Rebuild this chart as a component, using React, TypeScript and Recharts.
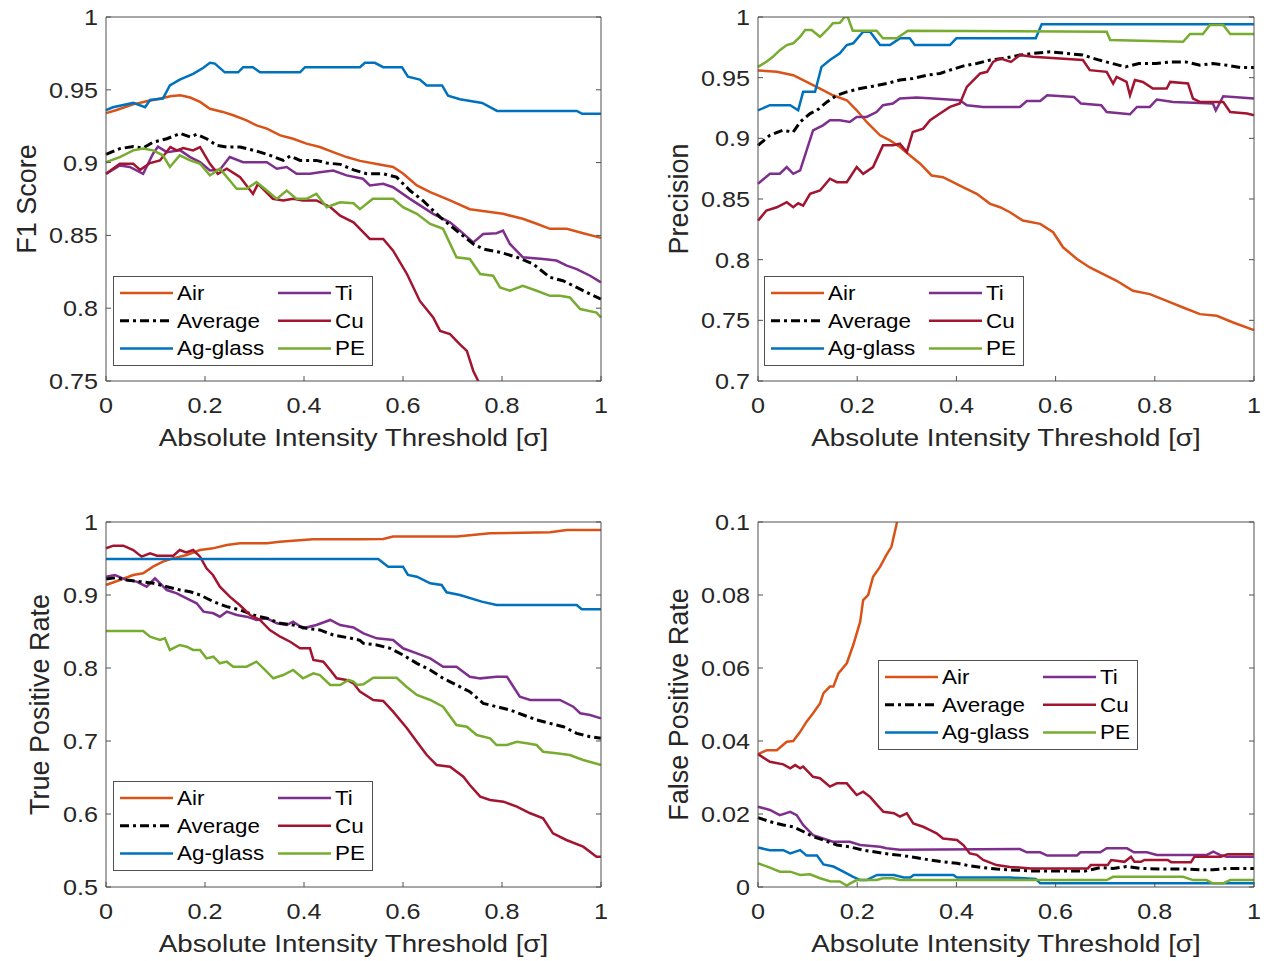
import React from 'react';
import { LineChart, Line, XAxis, YAxis, Legend } from 'recharts';

type Pt = [number, number];

// ---------- tick values ----------
const X_TICKS = [0, 0.2, 0.4, 0.6, 0.8, 1];
const F1_TICKS = [0.75, 0.8, 0.85, 0.9, 0.95, 1];
const PREC_TICKS = [0.7, 0.75, 0.8, 0.85, 0.9, 0.95, 1];
const TPR_TICKS = [0.5, 0.6, 0.7, 0.8, 0.9, 1];
const FPR_TICKS = [0, 0.02, 0.04, 0.06, 0.08, 0.1];

// ---------- series ----------
const SERIES_NAMES = ['Air', 'Average', 'Ag-glass', 'Ti', 'Cu', 'PE'];
const SERIES_COLORS = ['#D95319', '#000000', '#0072BD', '#7E2F8E', '#A2142F', '#77AC30'];

// ---------- F1 score ----------
const f1Air: Pt[] = [[0,0.934],[0.02,0.936],[0.055,0.94],[0.08,0.942],[0.11,0.944],[0.13,0.9456],[0.15,0.9463],[0.17,0.9447],[0.19,0.9417],[0.21,0.937],[0.236,0.9348],[0.257,0.9325],[0.284,0.929],[0.304,0.9256],[0.325,0.9233],[0.352,0.9187],[0.378,0.9164],[0.405,0.913],[0.432,0.9107],[0.459,0.9072],[0.486,0.9038],[0.513,0.9012],[0.547,0.899],[0.58,0.897],[0.6,0.8925],[0.628,0.8843],[0.655,0.8797],[0.695,0.874],[0.735,0.868],[0.776,0.866],[0.802,0.8648],[0.842,0.8614],[0.87,0.858],[0.897,0.8545],[0.931,0.8545],[0.964,0.8515],[1,0.8483]];
const f1Avg: Pt[] = [[0,0.9056],[0.028,0.9096],[0.055,0.911],[0.075,0.91],[0.095,0.914],[0.123,0.9164],[0.15,0.92],[0.17,0.9176],[0.183,0.9194],[0.203,0.9164],[0.224,0.9118],[0.244,0.9107],[0.271,0.9107],[0.291,0.909],[0.311,0.9072],[0.337,0.9043],[0.358,0.9015],[0.372,0.9045],[0.392,0.9015],[0.425,0.9015],[0.446,0.8997],[0.473,0.8988],[0.5,0.895],[0.527,0.8923],[0.56,0.8923],[0.587,0.89],[0.614,0.8808],[0.64,0.874],[0.675,0.8625],[0.708,0.8533],[0.742,0.8441],[0.762,0.8407],[0.796,0.8384],[0.83,0.835],[0.863,0.8303],[0.897,0.8212],[0.923,0.8189],[0.951,0.8143],[0.978,0.8097],[1,0.8063]];
const f1Ag: Pt[] = [[0,0.936],[0.014,0.938],[0.055,0.941],[0.079,0.938],[0.089,0.943],[0.115,0.944],[0.129,0.953],[0.149,0.957],[0.176,0.961],[0.196,0.965],[0.21,0.9685],[0.22,0.968],[0.24,0.962],[0.267,0.962],[0.277,0.9655],[0.297,0.9655],[0.311,0.962],[0.392,0.962],[0.402,0.9655],[0.513,0.9655],[0.523,0.9685],[0.543,0.9685],[0.56,0.9655],[0.598,0.9655],[0.61,0.959],[0.634,0.957],[0.648,0.953],[0.679,0.953],[0.691,0.946],[0.715,0.9435],[0.76,0.941],[0.79,0.9355],[0.951,0.9355],[0.962,0.9335],[1,0.9335]];
const f1Ti: Pt[] = [[0,0.8923],[0.028,0.898],[0.048,0.897],[0.075,0.8923],[0.095,0.9061],[0.105,0.911],[0.123,0.9072],[0.15,0.9084],[0.17,0.9038],[0.19,0.9003],[0.21,0.8946],[0.23,0.8951],[0.25,0.9038],[0.277,0.9003],[0.325,0.9003],[0.345,0.8958],[0.365,0.897],[0.385,0.8923],[0.412,0.8923],[0.432,0.8934],[0.459,0.8946],[0.486,0.8912],[0.519,0.8889],[0.533,0.8843],[0.56,0.8854],[0.58,0.8831],[0.614,0.8751],[0.661,0.8648],[0.695,0.859],[0.715,0.8533],[0.742,0.8452],[0.762,0.851],[0.789,0.8515],[0.802,0.8533],[0.816,0.8441],[0.842,0.835],[0.883,0.8338],[0.91,0.8327],[0.931,0.8292],[0.951,0.8269],[0.978,0.8223],[1,0.8177]];
const f1Cu: Pt[] = [[0,0.8923],[0.028,0.8992],[0.055,0.8992],[0.069,0.895],[0.089,0.8997],[0.109,0.9015],[0.13,0.9107],[0.143,0.9084],[0.156,0.91],[0.176,0.9084],[0.19,0.9107],[0.21,0.8992],[0.226,0.8923],[0.244,0.8958],[0.271,0.89],[0.297,0.8785],[0.307,0.8854],[0.337,0.8751],[0.358,0.874],[0.378,0.8751],[0.398,0.874],[0.425,0.874],[0.453,0.8694],[0.473,0.8636],[0.5,0.859],[0.52,0.852],[0.533,0.8476],[0.56,0.8476],[0.58,0.8395],[0.608,0.8235],[0.634,0.805],[0.661,0.7936],[0.675,0.7844],[0.695,0.7822],[0.715,0.7752],[0.729,0.7707],[0.742,0.7569],[0.752,0.75],[0.775,0.735]];
const f1PE: Pt[] = [[0,0.9003],[0.028,0.9038],[0.055,0.9084],[0.075,0.9096],[0.095,0.9084],[0.115,0.905],[0.129,0.897],[0.149,0.905],[0.17,0.9015],[0.19,0.8992],[0.21,0.8912],[0.23,0.8958],[0.25,0.8877],[0.264,0.882],[0.284,0.882],[0.304,0.8866],[0.325,0.8808],[0.345,0.8751],[0.365,0.8808],[0.385,0.8751],[0.405,0.8751],[0.425,0.8785],[0.446,0.8694],[0.473,0.8728],[0.5,0.8721],[0.513,0.868],[0.539,0.8751],[0.58,0.8751],[0.6,0.8694],[0.628,0.8648],[0.655,0.8579],[0.681,0.8545],[0.708,0.835],[0.735,0.8338],[0.756,0.8235],[0.782,0.8223],[0.796,0.8143],[0.816,0.812],[0.842,0.8154],[0.87,0.812],[0.897,0.8085],[0.917,0.8085],[0.937,0.8074],[0.958,0.7994],[0.991,0.797],[1,0.7936]];

// ---------- Precision ----------
const precAir: Pt[] = [[0,0.956],[0.038,0.9548],[0.071,0.952],[0.098,0.9465],[0.125,0.941],[0.151,0.9355],[0.179,0.9314],[0.199,0.9231],[0.219,0.9135],[0.246,0.9025],[0.266,0.8983],[0.286,0.8928],[0.306,0.886],[0.327,0.8791],[0.35,0.8694],[0.373,0.868],[0.393,0.8639],[0.413,0.8597],[0.441,0.8543],[0.468,0.846],[0.488,0.8432],[0.508,0.8391],[0.534,0.8322],[0.569,0.8295],[0.595,0.8226],[0.615,0.8102],[0.643,0.8006],[0.669,0.7936],[0.696,0.7881],[0.723,0.7826],[0.756,0.7744],[0.79,0.7716],[0.824,0.7661],[0.857,0.7606],[0.891,0.7551],[0.925,0.7537],[0.958,0.7482],[1,0.7419]];
const precAvg: Pt[] = [[0,0.8942],[0.024,0.9025],[0.05,0.9066],[0.071,0.9052],[0.085,0.9135],[0.105,0.9204],[0.119,0.9231],[0.139,0.93],[0.159,0.9355],[0.179,0.9383],[0.206,0.941],[0.232,0.943],[0.26,0.9452],[0.286,0.948],[0.312,0.9493],[0.34,0.952],[0.367,0.9535],[0.387,0.9562],[0.413,0.9595],[0.441,0.9617],[0.468,0.9645],[0.49,0.9655],[0.528,0.9686],[0.554,0.97],[0.589,0.9713],[0.622,0.97],[0.655,0.9686],[0.688,0.9645],[0.714,0.9617],[0.741,0.9589],[0.768,0.9617],[0.802,0.9617],[0.834,0.963],[0.862,0.963],[0.891,0.9603],[0.917,0.9617],[0.945,0.9603],[0.972,0.9584],[1,0.9584]];
const precAg: Pt[] = [[0,0.9231],[0.024,0.9273],[0.065,0.9273],[0.081,0.9231],[0.091,0.9383],[0.115,0.9383],[0.128,0.9589],[0.145,0.9645],[0.165,0.97],[0.179,0.9769],[0.192,0.9783],[0.212,0.9879],[0.226,0.9879],[0.246,0.9769],[0.266,0.9769],[0.286,0.9824],[0.306,0.9824],[0.316,0.9769],[0.387,0.9769],[0.4,0.9824],[0.56,0.9824],[0.572,0.994],[1,0.994]];
const precTi: Pt[] = [[0,0.8626],[0.024,0.8708],[0.044,0.8708],[0.058,0.8763],[0.071,0.8708],[0.085,0.8736],[0.098,0.8901],[0.111,0.9066],[0.131,0.9107],[0.145,0.9149],[0.165,0.9149],[0.185,0.9135],[0.199,0.9176],[0.219,0.9176],[0.239,0.9217],[0.252,0.9273],[0.272,0.9287],[0.286,0.9328],[0.32,0.9336],[0.353,0.9328],[0.407,0.9314],[0.421,0.9273],[0.454,0.9259],[0.528,0.9259],[0.542,0.9308],[0.569,0.9308],[0.583,0.9355],[0.637,0.9341],[0.651,0.9287],[0.692,0.9273],[0.703,0.9217],[0.75,0.9198],[0.764,0.9259],[0.79,0.9259],[0.804,0.932],[0.837,0.93],[0.891,0.9292],[0.917,0.9287],[0.923,0.9231],[0.938,0.9347],[1,0.9328]];
const precCu: Pt[] = [[0,0.8322],[0.017,0.8405],[0.038,0.8432],[0.058,0.8474],[0.071,0.8432],[0.081,0.8465],[0.091,0.8446],[0.105,0.8543],[0.125,0.857],[0.145,0.8667],[0.159,0.8639],[0.179,0.8639],[0.199,0.8763],[0.212,0.8708],[0.232,0.8763],[0.252,0.8942],[0.272,0.8942],[0.286,0.8956],[0.3,0.8887],[0.312,0.9052],[0.333,0.908],[0.347,0.9149],[0.367,0.9204],[0.387,0.9259],[0.407,0.9287],[0.421,0.9424],[0.431,0.9465],[0.448,0.9535],[0.462,0.9548],[0.474,0.963],[0.488,0.9659],[0.51,0.963],[0.528,0.9686],[0.554,0.9672],[0.655,0.9645],[0.669,0.9562],[0.703,0.9548],[0.716,0.9452],[0.723,0.9507],[0.743,0.9465],[0.75,0.9355],[0.76,0.948],[0.776,0.9465],[0.796,0.941],[0.824,0.941],[0.831,0.9465],[0.867,0.9452],[0.877,0.9328],[0.891,0.93],[0.938,0.93],[0.952,0.9217],[0.986,0.9204],[1,0.919]];
const precPE: Pt[] = [[0,0.9589],[0.017,0.9631],[0.03,0.9672],[0.044,0.9727],[0.058,0.9769],[0.071,0.9783],[0.085,0.9837],[0.095,0.9893],[0.108,0.9893],[0.125,0.9837],[0.139,0.9893],[0.151,0.9948],[0.165,0.9953],[0.175,1],[0.181,1],[0.191,0.9887],[0.239,0.9887],[0.252,0.9824],[0.28,0.9824],[0.302,0.9887],[0.703,0.9879],[0.71,0.981],[0.857,0.9796],[0.871,0.986],[0.897,0.986],[0.911,0.9934],[0.938,0.9934],[0.952,0.986],[1,0.986]];

// ---------- True positive rate ----------
const tprAir: Pt[] = [[0,0.9137],[0.028,0.9205],[0.055,0.9274],[0.075,0.9297],[0.095,0.9388],[0.115,0.9457],[0.135,0.9502],[0.163,0.9548],[0.19,0.9616],[0.216,0.9639],[0.244,0.9685],[0.271,0.9708],[0.325,0.9708],[0.351,0.973],[0.418,0.9763],[0.513,0.9763],[0.56,0.9767],[0.58,0.98],[0.709,0.98],[0.776,0.9845],[0.897,0.9859],[0.931,0.989],[1,0.989]];
const tprAvg: Pt[] = [[0,0.922],[0.021,0.9237],[0.042,0.9205],[0.069,0.9183],[0.096,0.916],[0.123,0.9114],[0.15,0.9068],[0.17,0.9045],[0.19,0.9],[0.217,0.8909],[0.244,0.884],[0.271,0.8795],[0.298,0.8726],[0.325,0.8681],[0.352,0.8612],[0.378,0.8589],[0.405,0.8544],[0.432,0.8521],[0.459,0.8452],[0.493,0.841],[0.513,0.838],[0.52,0.8338],[0.547,0.8315],[0.574,0.827],[0.6,0.8178],[0.628,0.8064],[0.655,0.7973],[0.681,0.7859],[0.708,0.7767],[0.735,0.7676],[0.762,0.7516],[0.789,0.747],[0.816,0.7425],[0.843,0.7356],[0.87,0.7288],[0.897,0.7242],[0.924,0.7196],[0.951,0.7105],[0.978,0.7059],[1,0.7037]];
const tprAg: Pt[] = [[0,0.9493],[0.55,0.9493],[0.57,0.9388],[0.6,0.9388],[0.61,0.9274],[0.628,0.925],[0.655,0.916],[0.678,0.9137],[0.688,0.9037],[0.715,0.9],[0.759,0.8909],[0.789,0.8863],[0.951,0.8863],[0.961,0.8804],[1,0.8804]];
const tprTi: Pt[] = [[0,0.925],[0.018,0.9274],[0.042,0.9205],[0.062,0.9183],[0.082,0.9114],[0.099,0.9228],[0.123,0.9068],[0.143,0.9023],[0.163,0.8954],[0.183,0.8886],[0.197,0.8772],[0.217,0.8749],[0.23,0.8703],[0.244,0.8772],[0.264,0.8726],[0.284,0.8703],[0.304,0.8658],[0.325,0.8681],[0.345,0.8612],[0.365,0.8589],[0.378,0.8635],[0.398,0.8544],[0.425,0.8589],[0.453,0.8658],[0.473,0.8589],[0.5,0.8555],[0.52,0.8475],[0.547,0.8406],[0.58,0.8384],[0.6,0.827],[0.628,0.8201],[0.655,0.8132],[0.681,0.8018],[0.708,0.8018],[0.735,0.788],[0.756,0.7858],[0.789,0.788],[0.81,0.788],[0.836,0.7607],[0.857,0.7562],[0.917,0.7562],[0.944,0.747],[0.958,0.738],[0.978,0.7356],[1,0.731]];
const tprCu: Pt[] = [[0,0.964],[0.015,0.9676],[0.035,0.9676],[0.055,0.9616],[0.072,0.9525],[0.089,0.957],[0.103,0.9539],[0.136,0.9539],[0.149,0.9616],[0.162,0.9584],[0.176,0.9616],[0.19,0.9525],[0.203,0.9366],[0.216,0.9274],[0.23,0.9114],[0.25,0.8977],[0.27,0.8863],[0.291,0.8726],[0.311,0.8658],[0.331,0.852],[0.352,0.8429],[0.372,0.836],[0.392,0.827],[0.412,0.827],[0.419,0.811],[0.439,0.8087],[0.453,0.7973],[0.466,0.7859],[0.486,0.7836],[0.5,0.779],[0.513,0.7676],[0.54,0.7562],[0.56,0.7548],[0.58,0.7402],[0.608,0.7174],[0.628,0.699],[0.648,0.6808],[0.668,0.6671],[0.695,0.6648],[0.722,0.6511],[0.735,0.6397],[0.756,0.6237],[0.776,0.6192],[0.803,0.6169],[0.83,0.61],[0.857,0.601],[0.883,0.5941],[0.903,0.5735],[0.93,0.5644],[0.964,0.5553],[0.991,0.5416],[1,0.5416]];
const tprPE: Pt[] = [[0,0.8507],[0.075,0.8507],[0.089,0.8429],[0.109,0.8384],[0.119,0.8406],[0.129,0.8247],[0.149,0.8315],[0.163,0.8292],[0.176,0.8247],[0.19,0.8247],[0.203,0.8132],[0.217,0.8155],[0.23,0.8064],[0.244,0.8087],[0.257,0.8018],[0.284,0.8018],[0.304,0.8087],[0.318,0.7995],[0.338,0.7859],[0.358,0.7904],[0.378,0.7973],[0.398,0.7859],[0.419,0.7927],[0.432,0.7904],[0.453,0.7767],[0.473,0.7767],[0.49,0.7836],[0.5,0.7813],[0.507,0.7767],[0.52,0.7776],[0.54,0.7867],[0.587,0.7867],[0.607,0.7744],[0.628,0.763],[0.655,0.7562],[0.681,0.747],[0.708,0.7219],[0.729,0.7196],[0.749,0.7082],[0.776,0.7037],[0.789,0.6945],[0.81,0.6945],[0.83,0.699],[0.85,0.6968],[0.87,0.6945],[0.883,0.6853],[0.91,0.6831],[0.937,0.6808],[0.964,0.674],[1,0.6671]];

// ---------- False positive rate ----------
const fprAir: Pt[] = [[0,0.0364],[0.018,0.0375],[0.038,0.0375],[0.058,0.0398],[0.071,0.04],[0.085,0.0425],[0.098,0.0453],[0.111,0.0476],[0.125,0.0503],[0.132,0.0531],[0.145,0.0549],[0.152,0.0549],[0.162,0.0585],[0.179,0.0613],[0.192,0.0663],[0.206,0.0727],[0.212,0.0786],[0.222,0.08],[0.232,0.085],[0.246,0.0877],[0.259,0.091],[0.269,0.0932],[0.279,0.0992],[0.283,0.102],[0.3,0.115]];
const fprAvg: Pt[] = [[0,0.019],[0.024,0.0179],[0.051,0.017],[0.071,0.0165],[0.091,0.0152],[0.111,0.0138],[0.131,0.0129],[0.159,0.0115],[0.185,0.011],[0.212,0.0101],[0.24,0.0095],[0.266,0.009],[0.293,0.0086],[0.32,0.008],[0.347,0.0074],[0.373,0.0069],[0.401,0.0065],[0.427,0.0058],[0.454,0.0053],[0.481,0.0049],[0.55,0.0044],[0.66,0.0044],[0.69,0.0053],[0.716,0.0051],[0.743,0.0056],[0.77,0.0051],[0.824,0.0049],[0.864,0.0049],[0.891,0.0047],[0.917,0.0047],[0.945,0.0051],[1,0.0051]];
const fprAg: Pt[] = [[0,0.0108],[0.024,0.0101],[0.051,0.0101],[0.065,0.0092],[0.085,0.0101],[0.098,0.0086],[0.119,0.0086],[0.132,0.0062],[0.152,0.0056],[0.172,0.0042],[0.192,0.0028],[0.206,0.0019],[0.219,0.0019],[0.24,0.0033],[0.274,0.0033],[0.294,0.0026],[0.307,0.0026],[0.314,0.0033],[0.394,0.0033],[0.401,0.0026],[0.508,0.0026],[0.56,0.0022],[0.569,0.001],[1,0.001]];
const fprTi: Pt[] = [[0,0.022],[0.024,0.0211],[0.044,0.0197],[0.065,0.0206],[0.078,0.0197],[0.091,0.017],[0.111,0.0142],[0.131,0.0133],[0.151,0.0124],[0.185,0.0124],[0.206,0.0115],[0.246,0.011],[0.259,0.0106],[0.286,0.0102],[0.528,0.0104],[0.542,0.0095],[0.569,0.0095],[0.583,0.0086],[0.643,0.0086],[0.65,0.0095],[0.69,0.0095],[0.703,0.0106],[0.744,0.0106],[0.758,0.0095],[0.784,0.0095],[0.804,0.0088],[0.905,0.0088],[0.918,0.0097],[0.931,0.0088],[0.945,0.0083],[1,0.0083]];
const fprCu: Pt[] = [[0,0.0364],[0.024,0.0343],[0.051,0.0336],[0.065,0.0325],[0.075,0.0334],[0.085,0.0325],[0.091,0.033],[0.111,0.0302],[0.125,0.0298],[0.145,0.0275],[0.159,0.0284],[0.179,0.0284],[0.199,0.0252],[0.212,0.0261],[0.226,0.0247],[0.24,0.0225],[0.253,0.0206],[0.274,0.0202],[0.286,0.0193],[0.3,0.0202],[0.313,0.0174],[0.333,0.0165],[0.347,0.0156],[0.36,0.0147],[0.373,0.0133],[0.401,0.0129],[0.414,0.0115],[0.427,0.0092],[0.441,0.0088],[0.454,0.0074],[0.481,0.006],[0.508,0.0055],[0.55,0.0051],[0.665,0.0051],[0.671,0.006],[0.705,0.006],[0.712,0.0074],[0.739,0.0069],[0.752,0.0083],[0.759,0.0069],[0.772,0.0069],[0.779,0.0074],[0.826,0.0074],[0.833,0.0068],[0.873,0.0068],[0.88,0.0083],[0.933,0.0083],[0.947,0.009],[1,0.009]];
const fprPE: Pt[] = [[0,0.0065],[0.024,0.0053],[0.044,0.0042],[0.065,0.0042],[0.085,0.0033],[0.105,0.0035],[0.125,0.0024],[0.145,0.0016],[0.165,0.0015],[0.179,0.0004],[0.186,0.001],[0.199,0.0019],[0.239,0.0019],[0.252,0.0024],[0.272,0.0024],[0.286,0.0019],[0.703,0.0019],[0.716,0.0028],[0.857,0.0028],[0.877,0.0019],[0.904,0.0019],[0.917,0.001],[0.938,0.001],[0.952,0.0019],[1,0.0019]];

// ---------- styling ----------
const FONT = '"Liberation Sans", Arial, Helvetica, sans-serif';
const AXIS_COLOR = '#262626';
const BOX_COLOR = '#505050';
const DASH = '9 4 3 4';
const SX = 1.12;           // horizontal stretch of the reference lettering
const TICK_FS = 22.5;
const TITLE_FS = 24.75;
const YTITLE_FS = 27;
const LEGEND_FS = 20;
const AXIS_W = 106;
const TOP_PAD = 17;
const X_AXIS_H = 80;
const LEG_W = 260;
const LEG_H = 90;

const toRows = (pts: Pt[]) => pts.map(([x, y]) => ({ x, y }));
const fmt = (v: number) => String(v);
const blank = () => '';

// draw order (indices into SERIES_NAMES)
const DRAW_ORDER = [0, 3, 1, 4, 2, 5];

const makeTick = (dy: string) => (props: any) => {
  const { x, y, payload, textAnchor } = props;
  return (
    <g transform={`translate(${x},${y}) scale(${SX},1)`}>
      <text x={0} y={0} dy={dy} textAnchor={textAnchor} fontSize={TICK_FS} fontFamily={FONT} fill={AXIS_COLOR}>
        {fmt(payload.value)}
      </text>
    </g>
  );
};
const xTick = makeTick('0.71em');
const yTick = makeTick('0.355em');

const xTitle = (lp: any) => {
  const vb = lp && lp.viewBox ? lp.viewBox : { x: AXIS_W, y: 381, width: 495, height: X_AXIS_H };
  const cx = vb.x + vb.width / 2;
  const by = vb.y + 65;
  return (
    <g transform={`translate(${cx},${by}) scale(${SX},1)`}>
      <text x={0} y={0} textAnchor="middle" fontSize={TITLE_FS} fontFamily={FONT} fill={AXIS_COLOR}>
        Absolute Intensity Threshold [σ]
      </text>
    </g>
  );
};

function LegendBox() {
  return (
    <svg width={LEG_W} height={LEG_H} style={{ display: 'block' }}>
      <rect x={0.5} y={0.5} width={LEG_W - 1} height={LEG_H - 1} fill="#ffffff" stroke={BOX_COLOR} strokeWidth={1} />
      {SERIES_NAMES.map((name, i) => {
        const col = i < 3 ? 0 : 1;
        const row = i % 3;
        const lx = col === 0 ? 7 : 165;
        const ly = 17 + row * 27.7;
        return (
          <g key={name}>
            <line x1={lx} x2={lx + 53} y1={ly} y2={ly} stroke={SERIES_COLORS[i]}
              strokeWidth={name === 'Average' ? 3 : 2.5}
              strokeDasharray={name === 'Average' ? DASH : undefined} />
            <g transform={`translate(${lx + 57},${ly}) scale(${SX},1)`}>
              <text x={0} y={0} dominantBaseline="central" fontSize={LEGEND_FS} fontFamily={FONT} fill="#000">{name}</text>
            </g>
          </g>
        );
      })}
    </svg>
  );
}

interface PanelProps {
  left: number;
  top: number;
  plotW: number;
  plotH: number;
  domain: [number, number];
  yTicks: number[];
  yLabel: string;
  yLabelDist: number;
  series: Pt[][];
  legendLeft: number;
  legendTop: number;
}

function Panel(p: PanelProps) {
  const W = AXIS_W + p.plotW + 1 + 20;
  const H = TOP_PAD + p.plotH + X_AXIS_H + 4;
  const yLabelContent = (lp: any) => {
    const vb = lp && lp.viewBox ? lp.viewBox : { x: 0, y: TOP_PAD, width: AXIS_W, height: p.plotH };
    const cx = vb.x + vb.width - p.yLabelDist;
    const cy = vb.y + vb.height / 2;
    return (
      <text x={cx} y={cy} transform={`rotate(-90 ${cx} ${cy})`} textAnchor="middle" dominantBaseline="central"
        fontSize={YTITLE_FS} fontFamily={FONT} fill={AXIS_COLOR}>{p.yLabel}</text>
    );
  };
  return (
    <div style={{ position: 'absolute', left: p.left, top: p.top }}>
      <LineChart width={W} height={H} margin={{ top: TOP_PAD - 1, right: 20, bottom: 4, left: 0 }}>
        <XAxis xAxisId="b" type="number" dataKey="x" domain={[0, 1]} ticks={X_TICKS} interval={0}
          tickFormatter={fmt} height={X_AXIS_H} tickSize={-5} tickMargin={21}
          stroke={BOX_COLOR} tick={xTick}
          label={{ value: 'Absolute Intensity Threshold [σ]', content: xTitle }} />
        <XAxis xAxisId="t" orientation="top" type="number" dataKey="x" domain={[0, 1]} ticks={X_TICKS} interval={0}
          tickFormatter={blank} height={1} tickSize={-5} stroke={BOX_COLOR} />
        <YAxis yAxisId="l" type="number" domain={p.domain} ticks={p.yTicks} interval={0} allowDataOverflow
          tickFormatter={fmt} width={AXIS_W} tickSize={-5} tickMargin={13} stroke={BOX_COLOR} tick={yTick}
          label={{ value: p.yLabel, content: yLabelContent }} />
        <YAxis yAxisId="r" orientation="right" type="number" domain={p.domain} ticks={p.yTicks} interval={0}
          allowDataOverflow tickFormatter={blank} width={1} tickSize={-5} stroke={BOX_COLOR} />
        {DRAW_ORDER.map((i) => (
          <Line key={SERIES_NAMES[i]} xAxisId="b" yAxisId="l" data={toRows(p.series[i])} dataKey="y"
            name={SERIES_NAMES[i]} type="linear" stroke={SERIES_COLORS[i]}
            strokeWidth={i === 1 ? 3 : 2.5} strokeDasharray={i === 1 ? DASH : undefined}
            dot={false} activeDot={false} isAnimationActive={false} />
        ))}
        <Legend layout="vertical" align="center" verticalAlign="middle"
          wrapperStyle={{ left: p.legendLeft, top: p.legendTop, width: LEG_W, height: LEG_H }}
          content={() => <LegendBox />} />
      </LineChart>
    </div>
  );
}

export default function App() {
  return (
    <div style={{ position: 'absolute', left: 0, top: 0, width: 1270, height: 961, background: '#ffffff' }}>
      <Panel left={0} top={0} plotW={495} plotH={364} domain={[0.75, 1]} yTicks={F1_TICKS} yLabel="F1 Score" yLabelDist={79}
        series={[f1Air, f1Avg, f1Ag, f1Ti, f1Cu, f1PE]} legendLeft={113} legendTop={276} />
      <Panel left={652} top={0} plotW={496} plotH={364} domain={[0.7, 1]} yTicks={PREC_TICKS} yLabel="Precision" yLabelDist={79}
        series={[precAir, precAvg, precAg, precTi, precCu, precPE]} legendLeft={112} legendTop={276} />
      <Panel left={0} top={505} plotW={495} plotH={365} domain={[0.5, 1]} yTicks={TPR_TICKS} yLabel="True Positive Rate" yLabelDist={66}
        series={[tprAir, tprAvg, tprAg, tprTi, tprCu, tprPE]} legendLeft={113} legendTop={276} />
      <Panel left={652} top={505} plotW={496} plotH={365} domain={[0, 0.1]} yTicks={FPR_TICKS} yLabel="False Positive Rate" yLabelDist={79}
        series={[fprAir, fprAvg, fprAg, fprTi, fprCu, fprPE]} legendLeft={226} legendTop={155} />
    </div>
  );
}
